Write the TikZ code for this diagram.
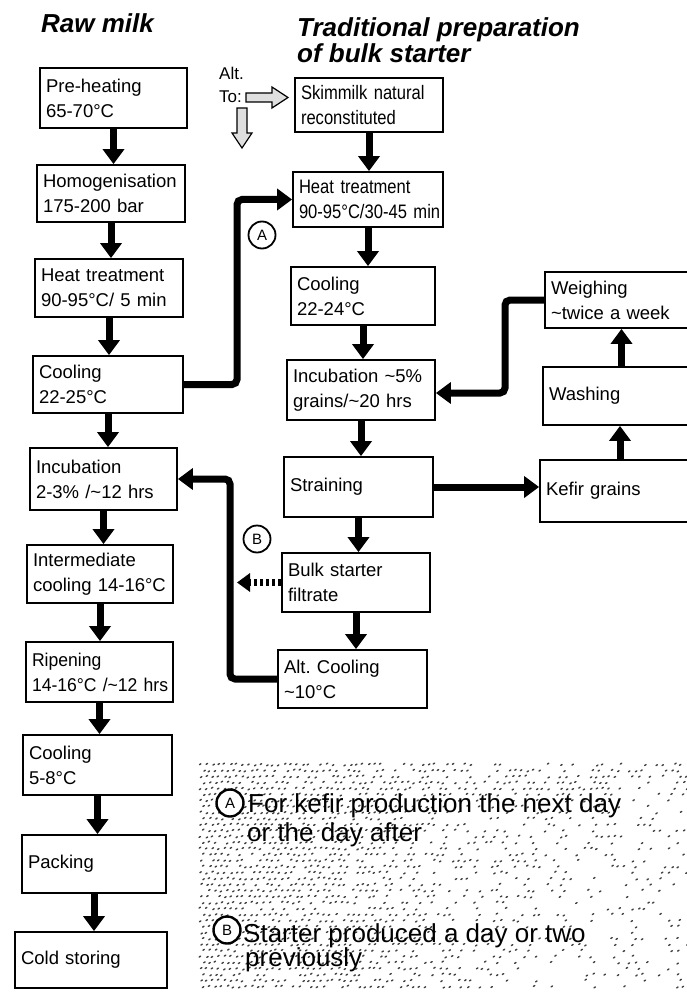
\documentclass[tikz,border=0pt]{standalone}
\usepackage{fontspec}
\setmainfont{Liberation Sans}
\newfontfamily\narrowsans[FakeStretch=0.85]{Liberation Sans}
\newfontfamily\snugsans[FakeStretch=0.95]{Liberation Sans}
\usetikzlibrary{arrows.meta}

\tikzset{
  box/.style={draw, line width=1.8pt, rectangle, inner xsep=6pt, inner ysep=0pt,
    align=left, anchor=center, font=\fontsize{18.5}{25}\selectfont},
  narrow/.style={font=\narrowsans\fontsize{19.5}{25}\selectfont},
  snug/.style={font=\snugsans\fontsize{18.5}{25}\selectfont},
  flow/.style={line width=7pt, -{Triangle[width=21pt,length=15pt]}},
  roundbend/.style={rounded corners=5pt},
  dashflow/.style={line width=7pt, dash pattern=on 3pt off 3pt,
    -{Triangle[width=18pt,length=13pt]}},
  heading/.style={anchor=base west, inner sep=0pt,
    font=\fontsize{26}{26}\selectfont\bfseries\itshape},
  small/.style={anchor=base west, inner sep=0pt, font=\fontsize{17}{17}\selectfont},
  tagcircle/.style={circle, draw, line width=1.8pt, inner sep=0pt, minimum size=27pt,
    font=\fontsize{15}{15}\selectfont},
  legendtext/.style={anchor=base west, inner sep=0pt, font=\fontsize{26}{26}\selectfont},
  hollow/.style={draw, line width=1.2pt, fill=gray!25},
  speck/.style={line width=1.4pt, black!75, line cap=round},
}

% \procbox[style]{name}{left}{top}{right}{bottom}{text}
\newcommand\procbox[7][]{%
  \pgfmathsetmacro\boxW{#5-#3}\pgfmathsetmacro\boxH{#6-#4}%
  \pgfmathsetmacro\boxTW{#5-#3-12}%
  \pgfmathsetmacro\boxCX{(#3+#5)/2}\pgfmathsetmacro\boxCY{(#4+#6)/2}%
  \node[box, #1, minimum width=\boxW pt, minimum height=\boxH pt, text width=\boxTW pt]
    (#2) at (\boxCX,\boxCY) {#7};}

\begin{document}
\begin{tikzpicture}[x=1pt, y=-1pt]
\useasboundingbox (0,0) rectangle (687,992);

% halftone screen behind the legend: dense on the left and along the top
\pgfmathsetseed{42}
\foreach \gi in {0,...,81}{
  \foreach \gj in {0,...,37}{
    \pgfmathsetmacro\dotX{200+6*\gi+3*mod(\gj,2)+2*(rnd-0.5)}
    \pgfmathsetmacro\dotY{765+6*\gj+2*(rnd-0.5)}
    \pgfmathsetmacro\fade{(\dotX-200)/487}
    \pgfmathsetmacro\pbase{max(0.18,1-1.15*\fade)}
    \pgfmathsetmacro\ptop{\dotY<800 ? 0.85-0.45*\fade : 0}
    \pgfmathsetmacro\pmid{\dotY<860 ? 0.55-0.35*\fade : 0}
    \pgfmathsetmacro\pfin{max(\pbase,max(\ptop,\pmid))}
    \pgfmathtruncatemacro\hit{rnd<\pfin}
    \ifnum\hit=1
      \draw[speck] (\dotX,\dotY) -- ++(1.4,-0.9);
    \fi
  }
}

% headings
\node[heading] (h1) at (41,33) {Raw milk};
\node[heading] (h2) at (297,37) {Traditional preparation};
\node[heading] (h3) at (297,63) {of bulk starter};

% raw milk line
\procbox{pre}{40}{68}{187}{128}{\mbox{Pre-heating}\\\mbox{65-70°C}}
\procbox{homo}{37}{165}{185}{222}{\mbox{Homogenisation}\\\mbox{175-200 bar}}
\procbox{heatL}{35}{259}{183}{317}{\mbox{Heat treatment}\\\mbox{90-95°C/ 5 min}}
\procbox{coolL}{33}{356}{183}{413}{\mbox{Cooling}\\\mbox{22-25°C}}
\procbox{incL}{30}{448}{177}{510}{\mbox{Incubation}\\\mbox{2-3\% /\textasciitilde 12 hrs}}
\procbox{inter}{27}{545}{173}{603}{\mbox{Intermediate}\\\mbox{cooling 14-16°C}}
\procbox[snug]{ripen}{26}{642}{173}{702}{\mbox{Ripening}\\\mbox{14-16°C /\textasciitilde 12 hrs}}
\procbox{coolF}{23}{735}{172}{795}{\mbox{Cooling}\\\mbox{5-8°C}}
\procbox{pack}{22}{835}{166}{893}{Packing}
\procbox{cold}{15}{932}{167}{988}{Cold storing}

% bulk starter line
\procbox[narrow]{skim}{295}{78}{443}{132}{\mbox{Skimmilk natural}\\\mbox{reconstituted}}
\procbox[narrow]{heatR}{293}{172}{443}{227}{\mbox{Heat treatment}\\\mbox{90-95°C/30-45 min}}
\procbox{coolR}{291}{267}{435}{325}{\mbox{Cooling}\\\mbox{22-24°C}}
\procbox{incR}{287}{360}{435}{420}{\mbox{Incubation \textasciitilde 5\%}\\\mbox{grains/\textasciitilde 20 hrs}}
\procbox{strain}{284}{457}{433}{517}{Straining}
\procbox{bulk}{282}{553}{430}{612}{\mbox{Bulk starter}\\\mbox{filtrate}}
\procbox{altc}{278}{650}{427}{708}{\mbox{Alt.\ Cooling}\\\mbox{\textasciitilde 10°C}}

% grain handling
\procbox{weigh}{545}{272}{700}{328}{\mbox{Weighing}\\\mbox{\textasciitilde twice a week}}
\procbox{wash}{543}{367}{700}{425}{Washing}
\procbox{kefir}{540}{460}{700}{522}{Kefir grains}

% main flows
\foreach \a/\b in {pre/homo, homo/heatL, heatL/coolL, coolL/incL, incL/inter,
                   inter/ripen, ripen/coolF, coolF/pack, pack/cold,
                   skim/heatR, heatR/coolR, coolR/incR, incR/strain,
                   strain/bulk, bulk/altc}
  \draw[flow] (\a.south) -- (\a.south |- \b.north);

\draw[flow] (strain.east) -- (strain.east -| kefir.west);
\draw[flow] (kefir.north) -- (kefir.north |- wash.south);
\draw[flow] (wash.north) -- (wash.north |- weigh.south);

\coordinate (wcol) at (505,393);
\draw[flow, roundbend] (weigh.west) -| (wcol) -- (wcol -| incR.east);

% route A: same-day milk to starter preparation
\coordinate (acol) at (237,290);
\draw[flow, roundbend] (coolL.east) -| (acol) |- (heatR.west);
\node[tagcircle] (tagA) at (262,235) {A};

% route B: starter made earlier
\coordinate (bcol) at (230,580);
\draw[flow, roundbend] (altc.west) -| (bcol) |- (incL.east);
\node[tagcircle] (tagB) at (257,539) {B};

\coordinate (btip) at (237,582.5);
\draw[dashflow] (bulk.west) -- (btip);

% alternative inputs
\node[small] (alt) at (219,80) {Alt.};
\node[small] (to) at (219,103) {To:};
\draw[hollow] (246,93) -- (272,93) -- (272,87) -- (288,97.5) -- (272,108)
  -- (272,102) -- (246,102) -- cycle;
\draw[hollow] (237,108) -- (247,108) -- (247,133) -- (252,133) -- (242,148)
  -- (232,133) -- (237,133) -- cycle;

% legend
\node[tagcircle, line width=2.4pt, fill=white] (legA) at (230,803) {A};
\node[legendtext] (legA1) at (248,812) {For kefir production the next day};
\node[legendtext] (legA2) at (247,841) {or the day after};
\node[tagcircle, line width=2.4pt, fill=white] (legB) at (227,930) {B};
\node[legendtext] (legB1) at (243,942) {Starter produced a day or two};
\node[legendtext] (legB2) at (245,966) {previously};
\end{tikzpicture}
\end{document}
